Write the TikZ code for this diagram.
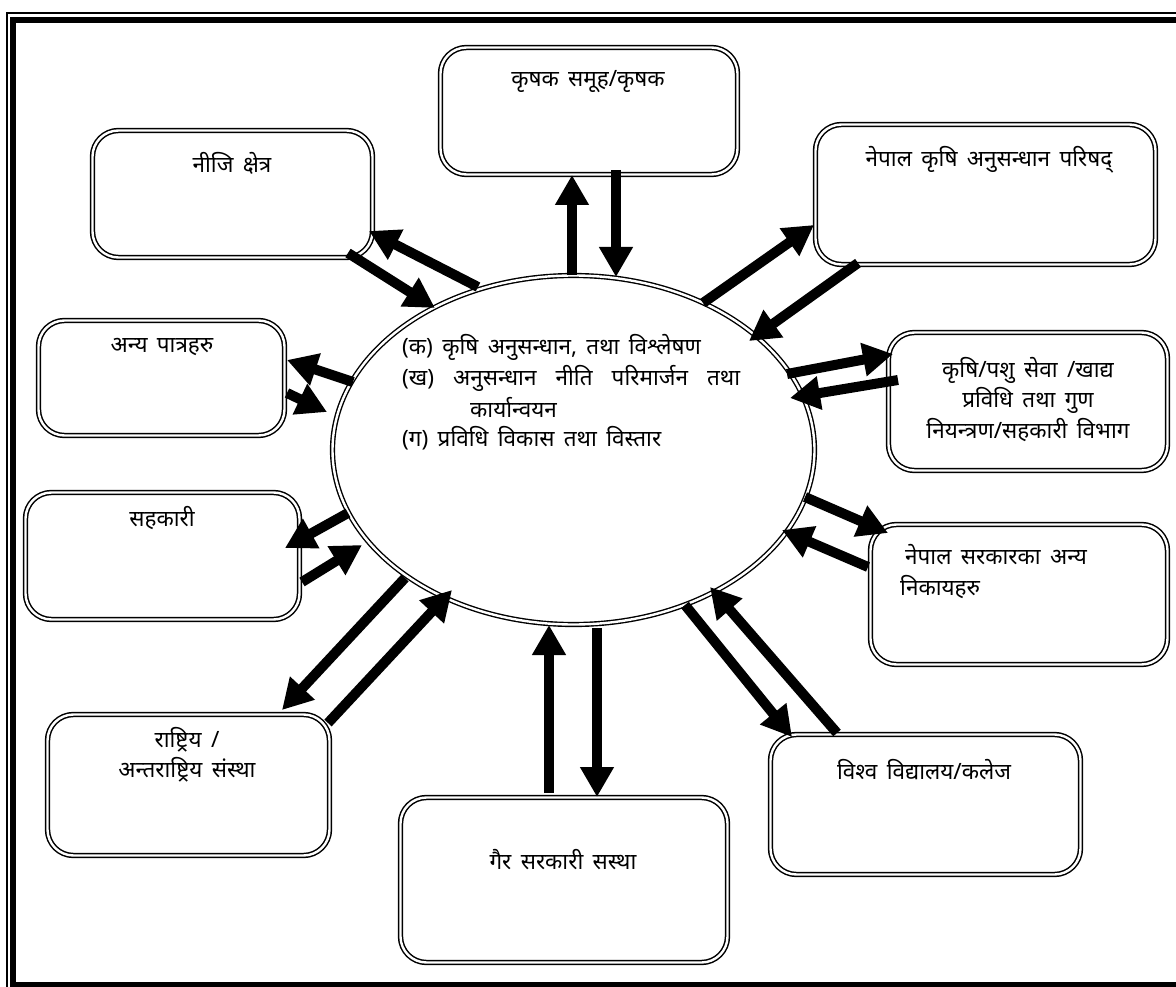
\documentclass[tikz,border=0pt]{standalone}
\usepackage{fontspec}
\newfontfamily\dev[Script=Devanagari,WordSpace={1.6}]{Noto Sans}
\usetikzlibrary{arrows.meta,shapes.geometric}
\begin{document}
\begin{tikzpicture}[x=1pt,y=-1pt,
  box/.style={draw, double, line width=1.5pt, double distance=2.4pt, rounded corners=26pt, inner sep=0pt, rectangle},
  hub/.style={draw, double, line width=1.4pt, double distance=2.4pt, ellipse, inner sep=0pt},
  lbl/.style={font=\dev\fontsize{22.5}{27}\selectfont, inner sep=0pt},
  flow/.style={line width=10pt, -{Triangle[width=32pt,length=30pt]}}]
\useasboundingbox (0,0) rectangle (1176,987);
\clip (0,0) rectangle (1176,987);
% frame
\draw[line width=2pt] (7,13) rectangle (1200,1000);
\draw[line width=6pt] (13,20) rectangle (1182,984.5);
% hub
\node[hub, minimum width=482pt, minimum height=349pt] (hub) at (573.5,450) {};
% boxes
\node[box, minimum width=297pt, minimum height=127pt] (b1) at (589,111) {};
\node[box, minimum width=280pt, minimum height=127pt] (b2) at (232.5,194) {};
\node[box, minimum width=340pt, minimum height=140pt] (b3) at (985.5,194.5) {};
\node[box, minimum width=246pt, minimum height=115pt] (b4) at (161.5,378) {};
\node[box, minimum width=274pt, minimum height=127pt] (b5) at (162.5,556) {};
\node[box, minimum width=279pt, minimum height=138pt] (b6) at (1028,401.5) {};
\node[box, minimum width=297pt, minimum height=140pt] (b7) at (1019,594.5) {};
\node[box, minimum width=310pt, minimum height=140pt] (b8) at (925.5,804.5) {};
\node[box, minimum width=327pt, minimum height=165pt] (b9) at (564,880) {};
\node[box, minimum width=282pt, minimum height=141pt] (b10) at (188.5,785) {};
% labels
\node[lbl] (l1) at (588,82) {कृषक समूह/कृषक};
\node[lbl] (l2) at (232,163) {नीजि क्षेत्र};
\node[lbl] (l3) at (989,160) {नेपाल कृषि अनुसन्धान परिषद्};
\node[lbl] (l4) at (162,347) {अन्य पात्रहरु};
\node[lbl] (l5) at (162,518) {सहकारी};
\node[lbl] (l6a) at (1028,370) {कृषि/पशु सेवा /खाद्य};
\node[lbl] (l6b) at (1028,400) {प्रविधि तथा गुण};
\node[lbl] (l6c) at (1028,430) {नियन्त्रण/सहकारी विभाग};
\node[lbl, anchor=west] (l7a) at (905,555) {नेपाल सरकारका अन्य};
\node[lbl, anchor=west] (l7b) at (900,587) {निकायहरु};
\node[lbl] (l8) at (924,770) {विश्व विद्यालय/कलेज};
\node[lbl] (l9) at (563,860) {गैर सरकारी सस्था};
\node[lbl] (l10a) at (187,740) {राष्ट्रिय /};
\node[lbl] (l10b) at (187,770) {अन्तराष्ट्रिय संस्था};
% hub text
\node[lbl, anchor=west] (h1) at (402,347) {(क) कृषि अनुसन्धान, तथा विश्लेषण};
\node[lbl, anchor=west] (h2) at (402,378) {\hbox to 338pt{(ख)\hfill अनुसन्धान\hfill नीति\hfill परिमार्जन\hfill तथा}};
\node[lbl, anchor=west] (h3) at (470,407) {कार्यान्वयन};
\node[lbl, anchor=west] (h4) at (402,438) {(ग) प्रविधि विकास तथा विस्तार};
% arrow end points
\coordinate (a1s) at (572,275); \coordinate (a1t) at (572,175);
\coordinate (a2s) at (616,170); \coordinate (a2t) at (616,277);
\coordinate (a3s) at (478,287); \coordinate (a3t) at (369,231);
\coordinate (a4s) at (348,253); \coordinate (a4t) at (435,308);
\coordinate (a5s) at (703,303); \coordinate (a5t) at (814,225);
\coordinate (a6s) at (858,263); \coordinate (a6t) at (749,341);
\coordinate (a7s) at (787,374); \coordinate (a7t) at (893,354);
\coordinate (a8s) at (898,380); \coordinate (a8t) at (790,398);
\coordinate (a9s) at (805,497); \coordinate (a9t) at (888,533);
\coordinate (a10s) at (868,567); \coordinate (a10t) at (782,530);
\coordinate (a11s) at (685,605); \coordinate (a11t) at (792,737);
\coordinate (a12s) at (837,733); \coordinate (a12t) at (710,587);
\coordinate (a13s) at (549,793); \coordinate (a13t) at (549,625);
\coordinate (a14s) at (597,628); \coordinate (a14t) at (597,797);
\coordinate (a15s) at (405,578); \coordinate (a15t) at (282,710);
\coordinate (a16s) at (328,723); \coordinate (a16t) at (452,590);
\coordinate (a17s) at (348,513); \coordinate (a17t) at (285,548);
\coordinate (a18s) at (302,582); \coordinate (a18t) at (362,545);
\coordinate (a19s) at (353,382); \coordinate (a19t) at (287,360);
\coordinate (a20s) at (287,393); \coordinate (a20t) at (327,412);
\foreach \i in {1,...,20} {\draw[flow] (a\i s) -- (a\i t);}
\end{tikzpicture}
\end{document}
